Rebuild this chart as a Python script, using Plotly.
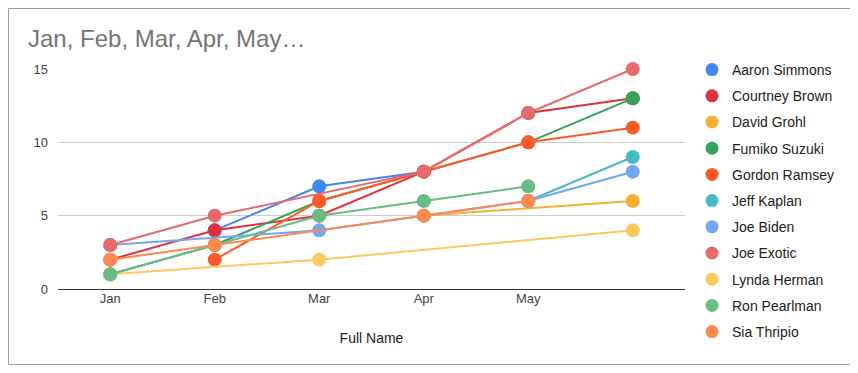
import plotly.graph_objects as go

months = ["Jan", "Feb", "Mar", "Apr", "May", "Jun"]
tick_labels = ["Jan", "Feb", "Mar", "Apr", "May", ""]

names = ["Aaron Simmons", "Courtney Brown", "David Grohl", "Fumiko Suzuki",
         "Gordon Ramsey", "Jeff Kaplan", "Joe Biden", "Joe Exotic",
         "Lynda Herman", "Ron Pearlman", "Sia Thripio"]

aaron = [None, 4, 7, 8, None, None]
courtney = [2, 4, 5, 8, 12, 13]
david = [None, None, None, 5, None, 6]
fumiko = [1, 3, 6, 8, 10, 13]
gordon = [None, 2, 6, 8, 10, 11]
jeff = [None, None, None, None, 6, 9]
biden = [3, None, 4, 5, 6, 8]
exotic = [3, 5, None, 8, 12, 15]
lynda = [1, None, 2, None, None, 4]
ron = [1, 3, 5, 6, 7, None]
sia = [2, 3, None, 5, 6, None]

series = [aaron, courtney, david, fumiko, gordon, jeff, biden, exotic, lynda, ron, sia]
colors = ["#4285F4", "#E0323E", "#F7AE35", "#34A25A", "#FF5A26", "#46BAC2",
          "#74A7F0", "#E8696A", "#FBC95C", "#6BBB86", "#FF8A4F"]

fig = go.Figure()
for name, vals, col in zip(names, series, colors):
    fig.add_trace(go.Scatter(
        x=months, y=vals, name=name, mode="lines+markers", connectgaps=True,
        line=dict(color=col, width=2), marker=dict(color=col, size=14),
        showlegend=False, cliponaxis=False))
for i, (name, col) in enumerate(zip(names, colors)):
    fig.add_trace(go.Scatter(
        x=[None], y=[None], name=name, mode="markers",
        marker=dict(color=col, size=13), legendgroup=str(i), showlegend=True))

# page body has an 8px margin; work in page pixel coordinates and offset
O = 8
W, H = 858 - O, 373 - O
L, R, T, B = 58 - O, 685 - O, 69 - O, 289 - O
pw, ph = R - L, B - T

def px(x):
    return (x - O - L) / pw

def py(y):
    return (B - (y - O)) / ph

fig.update_layout(
    width=W, height=H,
    margin=dict(l=L, r=W - R, t=T, b=H - B),
    paper_bgcolor="white", plot_bgcolor="white",
    font=dict(family="Arial, Liberation Sans, sans-serif", size=13, color="#222222"),
    showlegend=True,
    legend=dict(x=px(692), y=py(54), xanchor="left", yanchor="top",
                tracegroupgap=5, itemwidth=30, maxheight=400,
                font=dict(size=14, color="#222222"),
                bgcolor="rgba(0,0,0,0)"),
    xaxis=dict(type="category", categoryorder="array", categoryarray=months,
               tickvals=months, ticktext=tick_labels, showgrid=False,
               showline=False, zeroline=False, ticks="",
               tickfont=dict(size=13, color="#444444"),
               title=dict(text="Full Name", font=dict(size=14, color="#222222"), standoff=28),
               range=[-0.5, 5.5]),
    yaxis=dict(range=[0, 15], tickvals=[0, 5, 10, 15], showgrid=True,
               gridcolor="#CCCCCC", gridwidth=1, zeroline=True, zerolinecolor="#333333",
               zerolinewidth=1, showline=False, ticks="", ticklabelstandoff=9,
               tickfont=dict(size=13, color="#444444")),
    shapes=[dict(type="rect", xref="paper", yref="paper",
                 x0=px(8.5), x1=px(851.5), y0=py(364.5), y1=py(8.5),
                 line=dict(color="#9E9E9E", width=1), fillcolor="rgba(0,0,0,0)",
                 layer="below")],
    annotations=[dict(text="Jan, Feb, Mar, Apr, May…", xref="paper", yref="paper",
                      x=px(26), y=py(39), xanchor="left", yanchor="middle",
                      showarrow=False, font=dict(size=24, color="#757575"))],
)

fig.write_html("out.html")
